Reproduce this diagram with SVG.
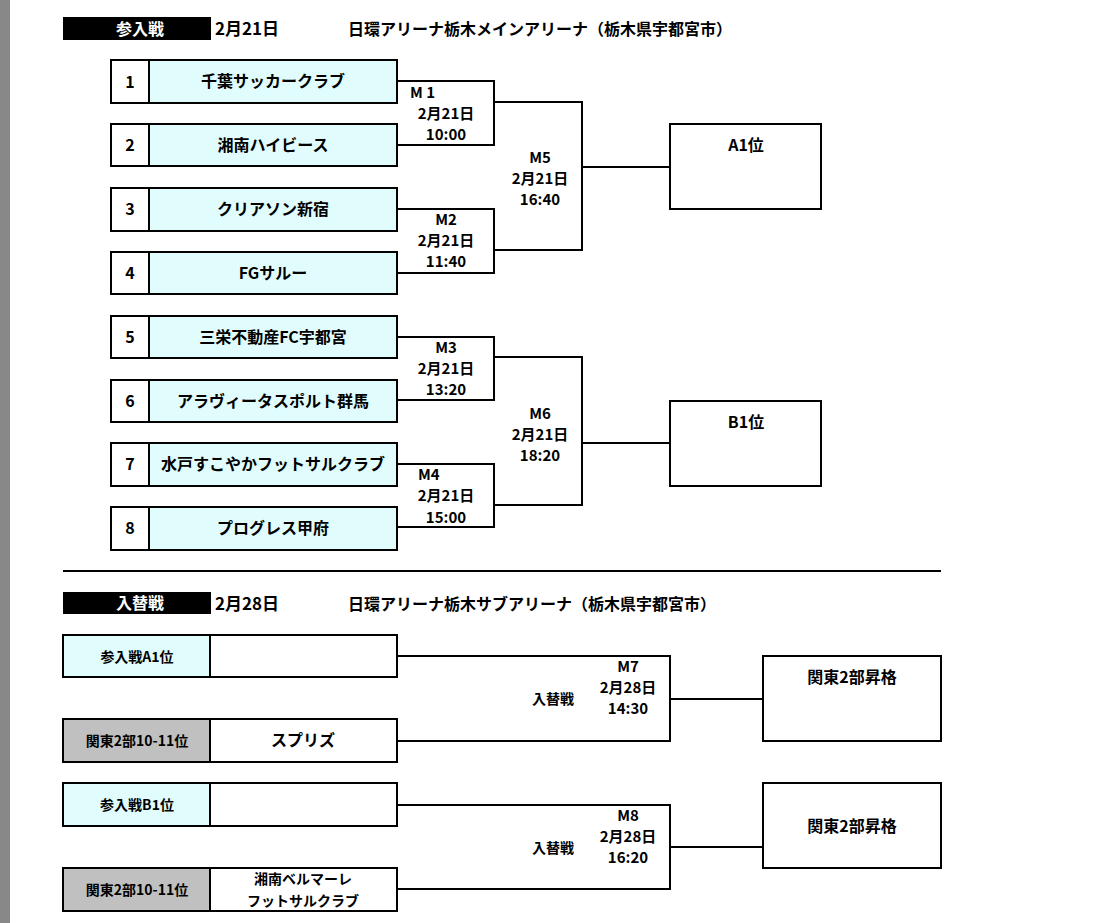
<svg xmlns="http://www.w3.org/2000/svg" width="1104" height="923" viewBox="0 0 1104 923">
<style>
text{font-family:"Noto Sans CJK JP","DejaVu Sans",sans-serif;font-weight:bold;font-size:16px;fill:#000}
.c{text-anchor:middle}
.s{font-size:15px}
.b{fill:#fff;stroke:#000;stroke-width:2}
.cy{fill:#e0fcfd;stroke:#000;stroke-width:2}
.g{fill:#c0c0c0;stroke:#000;stroke-width:2}
.l{fill:none;stroke:#000;stroke-width:2}
.h{fill:#000}
.w{fill:#fff}
</style>
<rect width="1104" height="923" fill="#fff"/>
<rect x="0" y="0" width="10" height="923" fill="#888"/>
<g id="header1"><rect class="h" x="63" y="17" width="148" height="23"/><text class="c w" x="140" y="35">参入戦</text><text x="215" y="35" style="font-size:17px">2月21日</text><text x="348" y="35">日環アリーナ栃木メインアリーナ（栃木県宇都宮市）</text></g>
<g id="teams">
<g id="t1"><rect class="b" x="111" y="60" width="38" height="43"/><rect class="cy" x="149" y="60" width="248" height="43"/><text class="c" x="130" y="88">1</text><text class="c" x="273" y="87">千葉サッカークラブ</text></g>
<g id="t2"><rect class="b" x="111" y="124" width="38" height="42"/><rect class="cy" x="149" y="124" width="248" height="42"/><text class="c" x="130" y="151">2</text><text class="c" x="273" y="151">湘南ハイビース</text></g>
<g id="t3"><rect class="b" x="111" y="188" width="38" height="43"/><rect class="cy" x="149" y="188" width="248" height="43"/><text class="c" x="130" y="215">3</text><text class="c" x="273" y="215">クリアソン新宿</text></g>
<g id="t4"><rect class="b" x="111" y="252" width="38" height="42"/><rect class="cy" x="149" y="252" width="248" height="42"/><text class="c" x="130" y="279">4</text><text class="c" x="273" y="279">FGサルー</text></g>
<g id="t5"><rect class="b" x="111" y="316" width="38" height="42"/><rect class="cy" x="149" y="316" width="248" height="42"/><text class="c" x="130" y="343">5</text><text class="c" x="273" y="343">三栄不動産FC宇都宮</text></g>
<g id="t6"><rect class="b" x="111" y="380" width="38" height="42"/><rect class="cy" x="149" y="380" width="248" height="42"/><text class="c" x="130" y="407">6</text><text class="c" x="273" y="407">アラヴィータスポルト群馬</text></g>
<g id="t7"><rect class="b" x="111" y="443" width="38" height="43"/><rect class="cy" x="149" y="443" width="248" height="43"/><text class="c" x="130" y="470">7</text><text class="c" x="273" y="470">水戸すこやかフットサルクラブ</text></g>
<g id="t8"><rect class="b" x="111" y="507" width="38" height="43"/><rect class="cy" x="149" y="507" width="248" height="43"/><text class="c" x="130" y="534">8</text><text class="c" x="273" y="534">プログレス甲府</text></g>
</g>
<g id="connectors">
<polyline class="l" points="397,81 494,81 494,145 397,145"/>
<polyline class="l" points="397,209 494,209 494,273 397,273"/>
<polyline class="l" points="397,337 494,337 494,400 397,400"/>
<polyline class="l" points="397,464 494,464 494,527 397,527"/>
<polyline class="l" points="494,102 582,102 582,250 494,250"/>
<polyline class="l" points="494,357 582,357 582,505 494,505"/>
<line class="l" x1="582" y1="167" x2="670" y2="167"/>
<line class="l" x1="582" y1="443" x2="670" y2="443"/>
<polyline class="l" points="397,656 670,656 670,741 397,741"/>
<polyline class="l" points="397,805 670,805 670,889 397,889"/>
<line class="l" x1="670" y1="699" x2="763" y2="699"/>
<line class="l" x1="670" y1="847" x2="763" y2="847"/>
<line class="l" x1="63" y1="571" x2="941" y2="571"/>
</g>
<g id="labels" class="s">
<text class="s" x="410" y="98">M 1</text><text class="c s" x="446" y="119">2月21日</text><text class="c s" x="446" y="140">10:00</text>
<text class="c s" x="446" y="225">M2</text><text class="c s" x="446" y="246">2月21日</text><text class="c s" x="446" y="267">11:40</text>
<text class="c s" x="446" y="353">M3</text><text class="c s" x="446" y="374">2月21日</text><text class="c s" x="446" y="395">13:20</text>
<text class="s" x="418" y="480">M4</text><text class="c s" x="446" y="501">2月21日</text><text class="c s" x="446" y="523">15:00</text>
<text class="c s" x="540" y="163">M5</text><text class="c s" x="540" y="184">2月21日</text><text class="c s" x="540" y="205">16:40</text>
<text class="c s" x="540" y="419">M6</text><text class="c s" x="540" y="440">2月21日</text><text class="c s" x="540" y="461">18:20</text>
</g>
<g id="a1"><rect class="b" x="670" y="124" width="151" height="85"/><text class="c" x="746" y="151">A1位</text></g>
<g id="b1"><rect class="b" x="670" y="401" width="151" height="85"/><text class="c" x="746" y="428">B1位</text></g>
<g id="header2"><rect class="h" x="63" y="592" width="148" height="22"/><text class="c w" x="140" y="609">入替戦</text><text x="215" y="610" style="font-size:17px">2月28日</text><text x="348" y="610">日環アリーナ栃木サブアリーナ（栃木県宇都宮市）</text></g>
<g id="e1"><rect class="cy" x="63" y="635" width="147" height="42"/><rect class="b" x="210" y="635" width="187" height="42"/><text class="c" x="137" y="662" style="font-size:14px">参入戦A1位</text></g>
<g id="e2"><rect class="g" x="63" y="719" width="147" height="43"/><rect class="b" x="210" y="719" width="187" height="43"/><text class="c" x="137" y="746" style="font-size:14px">関東2部10-11位</text><text class="c" x="303" y="746">スプリズ</text></g>
<g id="e3"><rect class="cy" x="63" y="783" width="147" height="43"/><rect class="b" x="210" y="783" width="187" height="43"/><text class="c" x="137" y="810" style="font-size:14px">参入戦B1位</text></g>
<g id="e4"><rect class="g" x="63" y="868" width="147" height="43"/><rect class="b" x="210" y="868" width="187" height="43"/><text class="c" x="137" y="895" style="font-size:14px">関東2部10-11位</text><text class="c" x="303" y="884" style="font-size:14px">湘南ベルマーレ</text><text class="c" x="303" y="906" style="font-size:14px">フットサルクラブ</text></g>
<g id="m7"><text class="c" x="553" y="704" style="font-size:14px">入替戦</text><text class="c s" x="628" y="672">M7</text><text class="c s" x="628" y="693">2月28日</text><text class="c s" x="628" y="714">14:30</text></g>
<g id="m8"><text class="c" x="553" y="853" style="font-size:14px">入替戦</text><text class="c s" x="628" y="821">M8</text><text class="c s" x="628" y="842">2月28日</text><text class="c s" x="628" y="863">16:20</text></g>
<g id="p1"><rect class="b" x="763" y="656" width="178" height="85"/><text class="c" x="852" y="683">関東2部昇格</text></g>
<g id="p2"><rect class="b" x="763" y="783" width="178" height="85"/><text class="c" x="852" y="832">関東2部昇格</text></g>
</svg>
